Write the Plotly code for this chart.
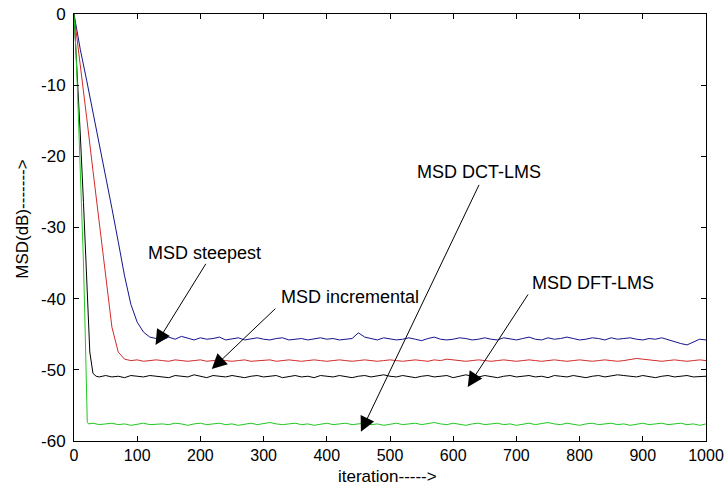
import plotly.graph_objects as go

# ---------------- data ----------------
steady_iter = list(range(140, 1001, 10))

blue_iter0 = [0, 10, 20, 30, 40, 50, 60, 70, 80, 90, 100, 110, 120, 130]
blue_msd0 = [0, -5, -9.3, -13.7, -18.2, -22.8, -27.3, -32, -36.8, -40.8, -43.3, -44.7, -45.4, -45.6]
blue_msd = [
    -45.8, -45.4, -45.7, -45.3, -45.6, -45.8, -45.5, -45.7, -45.6, -45.4,
    -45.8, -45.7, -45.5, -45.8, -45.6, -45.5, -45.7, -45.8, -45.6, -45.5,
    -45.8, -45.7, -45.6, -45.8, -45.7, -45.5, -45.7, -45.6, -45.8, -45.7,
    -45.6, -44.8, -45.4, -45.6, -45.8, -45.5, -45.6, -45.8, -45.7, -45.5,
    -45.7, -45.9, -45.6, -45.4, -45.7, -45.8, -45.7, -45.5, -45.6, -45.8,
    -45.7, -45.5, -45.7, -45.8, -45.5, -45.7, -45.8, -45.6, -45.4, -45.7,
    -45.8, -45.5, -45.7, -45.6, -45.4, -45.6, -45.8, -45.7, -45.5, -45.6,
    -45.8, -45.5, -45.7, -45.6, -45.5, -45.7, -45.8, -45.6, -45.7, -45.5,
    -45.8, -46.0, -46.3, -46.5, -46.1, -45.7, -45.8,
]

red_iter0 = [0, 10, 20, 30, 40, 50, 60, 70, 80, 90, 100, 110, 120, 130]
red_msd0 = [0, -7, -14.5, -22, -29.5, -37, -44, -47.5, -48.5, -48.7, -48.6, -48.8, -48.7, -48.6]
red_msd = [
    -48.7, -48.8, -48.6, -48.7, -48.8, -48.7, -48.6, -48.8, -48.7, -48.6,
    -48.7, -48.8, -48.7, -48.6, -48.8, -48.7, -48.7, -48.6, -48.8, -48.7,
    -48.6, -48.7, -48.8, -48.7, -48.6, -48.7, -48.8, -48.7, -48.6, -48.7,
    -48.8, -48.7, -48.6, -48.7, -48.8, -48.7, -48.6, -48.7, -48.8, -48.7,
    -48.6, -48.7, -48.8, -48.6, -48.7, -48.5, -48.6, -48.7, -48.8, -48.7,
    -48.6, -48.7, -48.8, -48.7, -48.6, -48.7, -48.8, -48.7, -48.6, -48.7,
    -48.8, -48.7, -48.6, -48.7, -48.8, -48.7, -48.6, -48.7, -48.8, -48.7,
    -48.6, -48.7, -48.8, -48.7, -48.5, -48.4, -48.5, -48.6, -48.7, -48.8,
    -48.7, -48.6, -48.7, -48.8, -48.7, -48.6, -48.7,
]

black_iter0 = [0, 5, 10, 15, 20, 25, 30, 35, 40, 50, 60, 70, 80, 90, 100, 110, 120, 130]
black_msd0 = [0, -8, -17, -26.5, -37, -47.5, -50.5, -50.9, -51.0, -50.8,
              -51.0, -50.9, -51.1, -50.8, -50.9, -51.0, -50.8, -50.9]
black_msd = [
    -50.9, -51.1, -50.8, -50.9, -51.0, -50.7, -50.9, -51.1, -50.8, -50.9,
    -51.0, -50.8, -50.9, -51.1, -50.9, -50.8, -51.0, -50.9, -50.8, -51.1,
    -50.9, -50.8, -51.0, -50.9, -51.1, -50.8, -50.9, -51.0, -50.8, -50.9,
    -51.1, -50.9, -50.8, -51.0, -50.9, -50.7, -50.9, -51.0, -50.8, -50.9,
    -51.1, -50.9, -50.8, -51.0, -50.9, -50.8, -51.1, -50.9, -50.7, -50.9,
    -51.0, -50.8, -50.9, -51.1, -50.9, -50.8, -51.0, -50.9, -50.8, -51.0,
    -50.9, -51.1, -50.8, -50.9, -51.0, -50.8, -50.9, -51.1, -50.9, -50.8,
    -51.0, -50.9, -50.7, -50.8, -50.9, -51.0, -50.8, -50.9, -51.1, -50.9,
    -50.8, -51.0, -50.9, -50.8, -51.0, -50.9, -50.9,
]

green_iter0 = [0, 3, 6, 9, 12, 15, 17, 19, 20, 21, 23, 30, 40, 50, 60, 70, 80, 90, 100, 110, 120, 130]
green_msd0 = [0, -5, -12, -19, -26, -35, -42, -52, -55.5, -57.3,
              -57.6, -57.5, -57.7, -57.6, -57.5, -57.7, -57.6, -57.8, -57.6, -57.5,
              -57.7, -57.6]
green_msd = [
    -57.6, -57.7, -57.5, -57.6, -57.8, -57.6, -57.5, -57.7, -57.6, -57.5,
    -57.7, -57.6, -57.8, -57.6, -57.5, -57.7, -57.6, -57.4, -57.6, -57.7,
    -57.6, -57.5, -57.7, -57.6, -57.8, -57.6, -57.5, -57.7, -57.6, -57.5,
    -57.7, -57.6, -57.5, -57.7, -57.6, -57.8, -57.6, -57.5, -57.7, -57.6,
    -57.5, -57.7, -57.6, -57.4, -57.6, -57.7, -57.5, -57.6, -57.8, -57.6,
    -57.5, -57.7, -57.6, -57.5, -57.7, -57.6, -57.8, -57.6, -57.5, -57.7,
    -57.6, -57.4, -57.6, -57.7, -57.5, -57.6, -57.8, -57.6, -57.5, -57.7,
    -57.6, -57.5, -57.7, -57.6, -57.8, -57.6, -57.5, -57.7, -57.6, -57.5,
    -57.7, -57.6, -57.5, -57.7, -57.6, -57.8, -57.6,
]

x_ticks = [0, 100, 200, 300, 400, 500, 600, 700, 800, 900, 1000]
y_ticks = [0, -10, -20, -30, -40, -50, -60]

# annotation labels: (text, text_x, text_y, tail_x, tail_y, tip_x, tip_y)
labels = [
    ("MSD steepest", 207, -33.6, 210, -34.9, 129, -46.5),
    ("MSD incremental", 437, -39.8, 321, -41.2, 218, -49.9),
    ("MSD DCT-LMS", 641, -22.2, 642, -23.8, 454, -58.7),
    ("MSD DFT-LMS", 821, -37.8, 720, -39.2, 623, -52.4),
]

# ---------------- figure ----------------
FONT = "Arial, Liberation Sans, sans-serif"
fig = go.Figure()

series = [
    (blue_iter0, blue_msd0, blue_msd, "#14148c", "MSD steepest"),
    (red_iter0, red_msd0, red_msd, "#d42a2a", "MSD incremental"),
    (black_iter0, black_msd0, black_msd, "#000000", "MSD DFT-LMS"),
    (green_iter0, green_msd0, green_msd, "#20c820", "MSD DCT-LMS"),
]
for x0, y0, ys, col, name in series:
    fig.add_trace(go.Scatter(
        x=x0 + steady_iter, y=y0 + ys, mode="lines", name=name,
        line=dict(color=col, width=1), showlegend=False,
    ))

annotations = []
for text, tx, ty, ax, ay, hx, hy in labels:
    annotations.append(dict(
        x=hx, y=hy, ax=ax, ay=ay, xref="x", yref="y", axref="x", ayref="y",
        text="", showarrow=True, arrowhead=2, arrowsize=3, arrowwidth=1,
        arrowcolor="black",
    ))
    annotations.append(dict(
        x=tx, y=ty, xref="x", yref="y", text=text, showarrow=False,
        font=dict(family=FONT, size=18, color="black"),
        xanchor="center", yanchor="middle",
    ))

annotations.append(dict(
    x=0.496, y=-0.082, xref="paper", yref="paper", text="iteration----->",
    showarrow=False, font=dict(family=FONT, size=17, color="black"),
    xanchor="center", yanchor="middle",
))
annotations.append(dict(
    x=-0.081, y=0.52, xref="paper", yref="paper", text="MSD(dB)------->",
    showarrow=False, textangle=-90, font=dict(family=FONT, size=17, color="black"),
    xanchor="center", yanchor="middle",
))

axis_common = dict(
    showgrid=False, zeroline=False, showline=True, linecolor="black", linewidth=1,
    mirror="ticks", ticks="inside", ticklen=5, tickcolor="black", automargin=False,
)
fig.update_xaxes(range=[0, 1000], tickvals=x_ticks, ticktext=[str(v) for v in x_ticks],
                 ticklabelstandoff=0, tickfont=dict(family=FONT, size=16, color="black"),
                 **axis_common)
fig.update_yaxes(range=[-60, 0], tickvals=y_ticks, ticktext=[str(v) for v in y_ticks],
                 ticklabelstandoff=4, tickfont=dict(family=FONT, size=17, color="black"),
                 **axis_common)

fig.update_layout(
    width=726, height=486,
    margin=dict(l=74, r=20, t=14, b=45, autoexpand=False),
    paper_bgcolor="white", plot_bgcolor="white",
    annotations=annotations,
)

fig.write_html("out.html", config={"displayModeBar": False},
               post_script="document.body.style.margin='0px';")
